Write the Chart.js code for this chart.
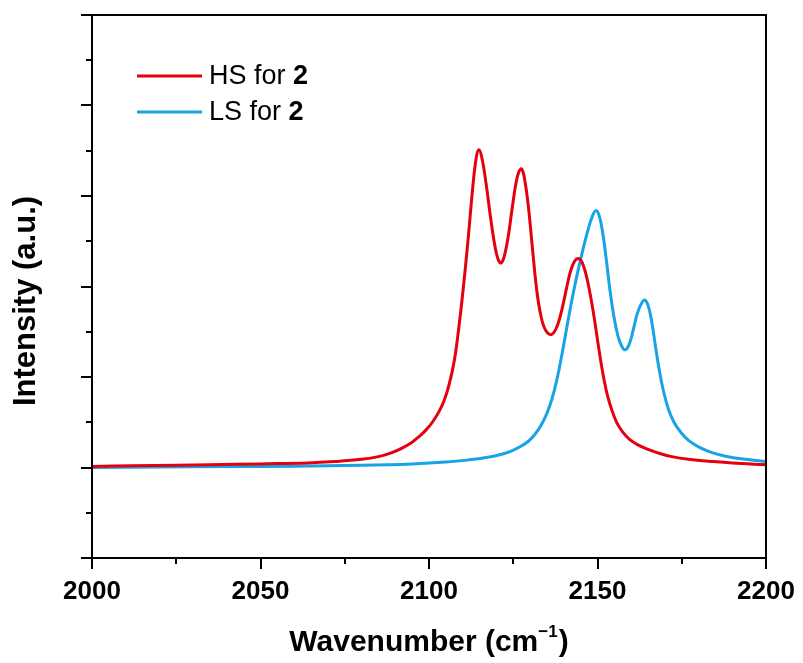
<!DOCTYPE html>
<html>
<head>
<meta charset="utf-8">
<script src="https://cdn.jsdelivr.net/npm/chart.js@4/dist/chart.umd.min.js"></script>
<style>
  html, body { margin: 0; padding: 0; background: #ffffff; }
  #wrap { width: 803px; height: 663px; position: relative; }
</style>
</head>
<body>
<div id="wrap"><canvas id="c" width="803" height="663"></canvas></div>
<script>
// ---- data ----
const seriesLabels = ["HS for ", "LS for "];
const seriesBold = ["2", "2"];

const hsWavenumber = [2000, 2012, 2025, 2035, 2050, 2064, 2072, 2080, 2085, 2089, 2092, 2095, 2097, 2099, 2101, 2103, 2104.5, 2106, 2107.5, 2108.7, 2110, 2111.5, 2113, 2114, 2114.8, 2115.7, 2117, 2118.2, 2119.5, 2120.5, 2121.4, 2122.3, 2123.5, 2124.7, 2125.8, 2126.7, 2127.5, 2128.4, 2129.5, 2130.7, 2132, 2133.3, 2134.7, 2136.4, 2138, 2139.4, 2140.8, 2142, 2143.2, 2144.3, 2145.4, 2146.6, 2147.8, 2149, 2150.2, 2151.5, 2152.8, 2154.2, 2155.8, 2157.5, 2159.5, 2162, 2165, 2168.5, 2172, 2177, 2183, 2190, 2200];
const hsIntensity = [0.01, 0.02, 0.025, 0.03, 0.04, 0.05, 0.065, 0.09, 0.12, 0.165, 0.215, 0.28, 0.34, 0.41, 0.50, 0.62, 0.74, 0.92, 1.18, 1.50, 1.92, 2.48, 3.10, 3.42, 3.51, 3.42, 3.12, 2.78, 2.46, 2.30, 2.26, 2.33, 2.55, 2.87, 3.14, 3.27, 3.30, 3.18, 2.88, 2.42, 1.95, 1.66, 1.51, 1.47, 1.56, 1.74, 1.98, 2.17, 2.28, 2.31, 2.27, 2.13, 1.92, 1.66, 1.36, 1.06, 0.82, 0.64, 0.49, 0.39, 0.31, 0.25, 0.20, 0.155, 0.12, 0.09, 0.07, 0.05, 0.03];

const lsWavenumber = [2000, 2020, 2040, 2060, 2080, 2095, 2105, 2112, 2117, 2121, 2124, 2127, 2129.5, 2131.5, 2133.3, 2135, 2136.5, 2138, 2139.5, 2141, 2142.5, 2144, 2145.5, 2147, 2148.4, 2149.6, 2150.6, 2151.6, 2152.6, 2153.7, 2154.9, 2156.1, 2157.2, 2158.2, 2159.4, 2160.6, 2161.8, 2163, 2164.1, 2165.1, 2166.1, 2167.2, 2168.4, 2169.6, 2171, 2172.7, 2174.5, 2177, 2180.4, 2184, 2188, 2194, 2200];
const lsIntensity = [0.0, 0.005, 0.01, 0.015, 0.025, 0.04, 0.06, 0.085, 0.11, 0.14, 0.175, 0.23, 0.29, 0.37, 0.47, 0.60, 0.76, 0.98, 1.26, 1.57, 1.87, 2.14, 2.38, 2.60, 2.77, 2.84, 2.77, 2.58, 2.30, 1.96, 1.66, 1.45, 1.34, 1.30, 1.36, 1.52, 1.70, 1.81, 1.85, 1.78, 1.61, 1.34, 1.06, 0.84, 0.65, 0.50, 0.40, 0.30, 0.22, 0.165, 0.125, 0.09, 0.065];

const xTickValues = [2000, 2050, 2100, 2150, 2200];
const xTitle = "Wavenumber (cm";
const xTitleSup = "\u22121";
const yTitle = "Intensity (a.u.)";

// ---- styles ----
const RED = '#E5000F';
const BLUE = '#17A3E6';
const FONT = "'Liberation Sans', Arial, sans-serif";

function toPts(xs, ys) { return xs.map((x, i) => ({ x: x, y: ys[i] })); }

const framePlugin = {
  id: 'frame',
  afterDraw(chart) {
    const ctx = chart.ctx;
    const a = chart.chartArea;
    const xs = chart.scales.x, ys = chart.scales.y;
    ctx.save();
    ctx.strokeStyle = '#000';
    ctx.lineWidth = 2;
    ctx.lineCap = 'butt';
    ctx.beginPath();
    ctx.rect(a.left, a.top, a.right - a.left, a.bottom - a.top);
    ctx.stroke();
    ctx.beginPath();
    for (let v = ys.min; v <= ys.max + 1e-9; v += 0.5) {
      const py = Math.round(ys.getPixelForValue(v));
      const major = Math.abs(v - Math.round(v)) < 1e-9;
      ctx.moveTo(a.left, py);
      ctx.lineTo(a.left - (major ? 11 : 6), py);
    }
    for (let v = xs.min; v <= xs.max + 1e-9; v += 25) {
      const px = Math.round(xs.getPixelForValue(v));
      const major = (v % 50) === 0;
      ctx.moveTo(px, a.bottom);
      ctx.lineTo(px, a.bottom + (major ? 11 : 6));
    }
    ctx.stroke();

    // x title with superscript
    ctx.fillStyle = '#000';
    ctx.textBaseline = 'alphabetic';
    const tf = "bold 30px " + FONT;
    const sf = "bold 17px " + FONT;
    ctx.font = tf;
    const w1 = ctx.measureText(xTitle).width;
    const w3 = ctx.measureText(")").width;
    ctx.font = sf;
    const w2 = ctx.measureText(xTitleSup).width;
    const total = w1 + w2 + 1 + w3;
    let tx = (a.left + a.right) / 2 - total / 2;
    const ty = 651;
    ctx.font = tf;
    ctx.textAlign = 'left';
    ctx.fillText(xTitle, tx, ty);
    ctx.font = sf;
    ctx.fillText(xTitleSup, tx + w1, ty - 14);
    ctx.font = tf;
    ctx.fillText(")", tx + w1 + w2 + 1, ty);

    // y title rotated
    ctx.save();
    ctx.translate(25, 301);
    ctx.rotate(-Math.PI / 2);
    ctx.font = "bold 31px " + FONT;
    ctx.textAlign = 'center';
    ctx.textBaseline = 'middle';
    ctx.fillText(yTitle, 0, 1);
    ctx.restore();

    // legend
    const rows = [76, 112];
    chart.data.datasets.forEach((ds, i) => {
      const y = rows[i];
      ctx.strokeStyle = ds.borderColor;
      ctx.lineWidth = 3;
      ctx.beginPath();
      ctx.moveTo(137, y);
      ctx.lineTo(202, y);
      ctx.stroke();
      ctx.fillStyle = '#000';
      ctx.textAlign = 'left';
      ctx.textBaseline = 'middle';
      ctx.font = "27px " + FONT;
      ctx.fillText(seriesLabels[i], 209, y + 1);
      const wl = ctx.measureText(seriesLabels[i]).width;
      ctx.font = "bold 27px " + FONT;
      ctx.fillText(seriesBold[i], 209 + wl, y + 1);
    });
    ctx.restore();
  }
};

new Chart(document.getElementById('c'), {
  type: 'line',
  data: {
    datasets: [
      { label: seriesLabels[0] + seriesBold[0], data: toPts(hsWavenumber, hsIntensity),
        borderColor: RED, borderWidth: 3, pointRadius: 0, fill: false, tension: 0.4 },
      { label: seriesLabels[1] + seriesBold[1], data: toPts(lsWavenumber, lsIntensity),
        borderColor: BLUE, borderWidth: 3, pointRadius: 0, fill: false, tension: 0.4 }
    ]
  },
  options: {
    responsive: false,
    animation: false,
    layout: { padding: { top: 15, right: 37, left: 0, bottom: 0 } },
    plugins: { legend: { display: false }, tooltip: { enabled: false } },
    scales: {
      x: {
        type: 'linear', min: 2000, max: 2200,
        afterBuildTicks: (s) => { s.ticks = xTickValues.map(v => ({ value: v })); },
        ticks: { color: '#000', padding: 18, maxRotation: 0, autoSkip: false,
                 callback: (v) => String(v),
                 font: { family: FONT, weight: 'bold', size: 26 } },
        grid: { display: false, drawTicks: false },
        border: { display: false },
        afterFit: (s) => { s.height = 105; s.paddingLeft = 0; s.paddingRight = 0; }
      },
      y: {
        type: 'linear', min: -1, max: 5,
        ticks: { display: false },
        grid: { display: false, drawTicks: false },
        border: { display: false },
        afterFit: (s) => { s.width = 92; }
      }
    }
  },
  plugins: [framePlugin]
});
</script>
</body>
</html>
